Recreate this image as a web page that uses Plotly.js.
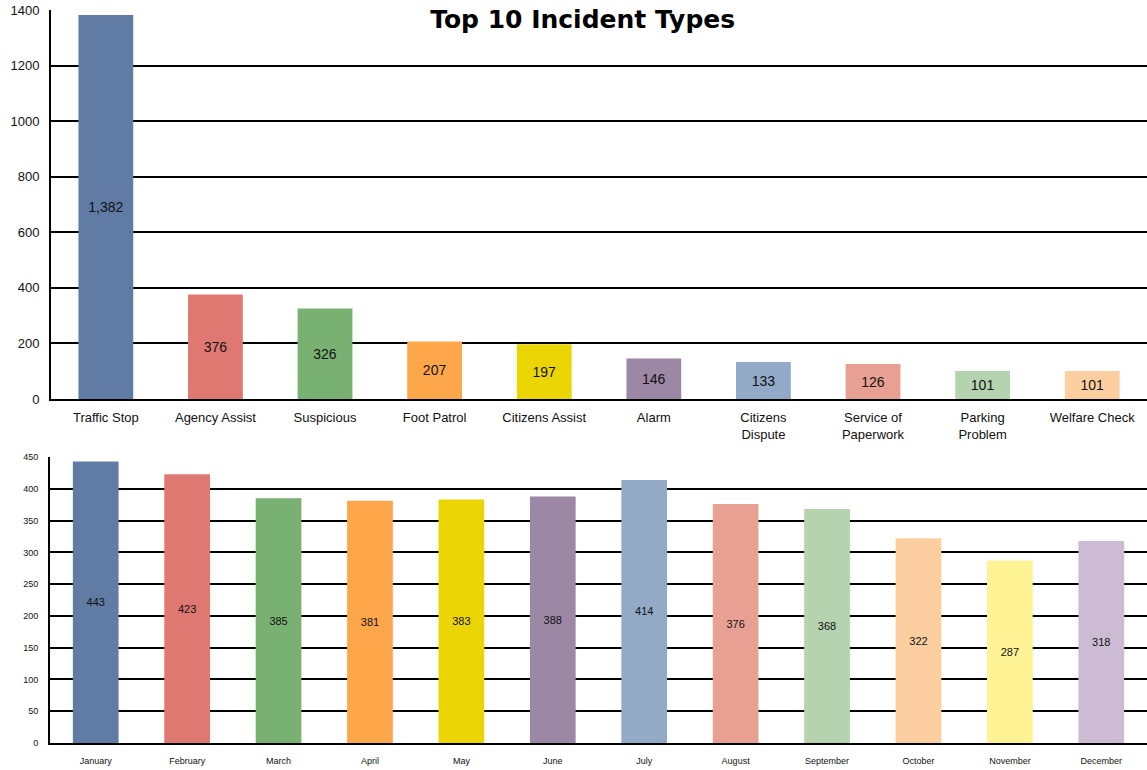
<!DOCTYPE html>
<html>
<head>
<meta charset="utf-8">
<script src="https://cdn.plot.ly/plotly-3.0.1.min.js"></script>
<style>html,body{margin:0;padding:0;overflow:hidden;background:#fff;}</style>
</head>
<body>
<div id="chart" style="width:1147px;height:770px;"></div>
<script>
const incidentTypes = ["Traffic Stop","Agency Assist","Suspicious","Foot Patrol","Citizens Assist","Alarm","Citizens<br>Dispute","Service of<br>Paperwork","Parking<br>Problem","Welfare Check"];
const incidentCounts = [1382,376,326,207,197,146,133,126,101,101];
const incidentColors = ["#607CA4","#E07872","#79B173","#FDA64A","#EBD504","#9C88A5","#92AAC7","#E8A092","#B5D3AE","#FDCFA0"];

const months = ["January","February","March","April","May","June","July","August","September","October","November","December"];
const monthCounts = [443,423,385,381,383,388,414,376,368,322,287,318];
const monthColors = ["#607CA4","#E07872","#79B173","#FDA64A","#EBD504","#9C88A5","#93AAC7","#E8A092","#B5D3AE","#FDCFA0","#FEF394","#CDBBD3"];

const topTicks = [0,200,400,600,800,1000,1200,1400];
const bottomTicks = [0,50,100,150,200,250,300,350,400,450];

const font = "Liberation Sans, Arial, sans-serif";

const traces = [
  {
    type: "bar", x: incidentTypes, y: incidentCounts, xaxis: "x", yaxis: "y",
    marker: {color: incidentColors, line: {width: 0}},
    texttemplate: "%{y:,}", textposition: "inside", insidetextanchor: "middle",
    textfont: {family: font, size: 14, color: "#111"}, constraintext: "none",
    hoverinfo: "x+y", showlegend: false
  },
  {
    type: "bar", x: months, y: monthCounts, xaxis: "x2", yaxis: "y2",
    marker: {color: monthColors, line: {width: 0}},
    texttemplate: "%{y}", textposition: "inside", insidetextanchor: "middle",
    textfont: {family: font, size: 11, color: "#111"}, constraintext: "none",
    hoverinfo: "x+y", showlegend: false
  }
];

const yCommon = {
  showgrid: true, gridcolor: "#000", gridwidth: 2,
  showline: true, linecolor: "#000", linewidth: 2, mirror: true,
  zeroline: false, ticks: "", fixedrange: true,
  tickfont: {family: font, color: "#111"}
};
const xCommon = {
  showline: true, linecolor: "#000", linewidth: 2,
  ticks: "", showgrid: false, tickangle: 0,
  tickfont: {family: font, color: "#111"}
};

const layout = {
  width: 1147, height: 770,
  margin: {l: 0, r: 0, t: 0, b: 0},
  paper_bgcolor: "#fff", plot_bgcolor: "#fff",
  bargap: 0.5,
  title: {
    text: "<b>Top 10 Incident Types</b>",
    font: {family: "DejaVu Sans, Liberation Sans, sans-serif", size: 25, color: "#000"},
    x: 0.508, xanchor: "center", y: 0.975, yanchor: "middle"
  },
  xaxis: Object.assign({}, xCommon, {
    domain: [0.0445, 1], anchor: "y",
    range: [-0.5, 9.5],
    tickfont: {family: font, size: 13, color: "#111"},
    ticklabelstandoff: 5
  }),
  yaxis: Object.assign({}, yCommon, {
    domain: [0.4818, 0.987], anchor: "x",
    range: [0, 1400], tickvals: topTicks, ticktext: topTicks.map(String),
    tickfont: {family: font, size: 13, color: "#111"},
    ticklabelstandoff: 7
  }),
  xaxis2: Object.assign({}, xCommon, {
    domain: [0.0436, 1], anchor: "y2",
    range: [-0.5, 11.5],
    tickfont: {family: font, size: 9, color: "#111"},
    ticklabelstandoff: 8
  }),
  yaxis2: Object.assign({}, yCommon, {
    domain: [0.035, 0.4065], anchor: "x2",
    range: [0, 450], tickvals: bottomTicks, ticktext: bottomTicks.map(String),
    tickfont: {family: font, size: 9, color: "#111"},
    ticklabelstandoff: 8
  })
};

Plotly.newPlot("chart", traces, layout, {displayModeBar: false, staticPlot: true});
</script>
</body>
</html>
